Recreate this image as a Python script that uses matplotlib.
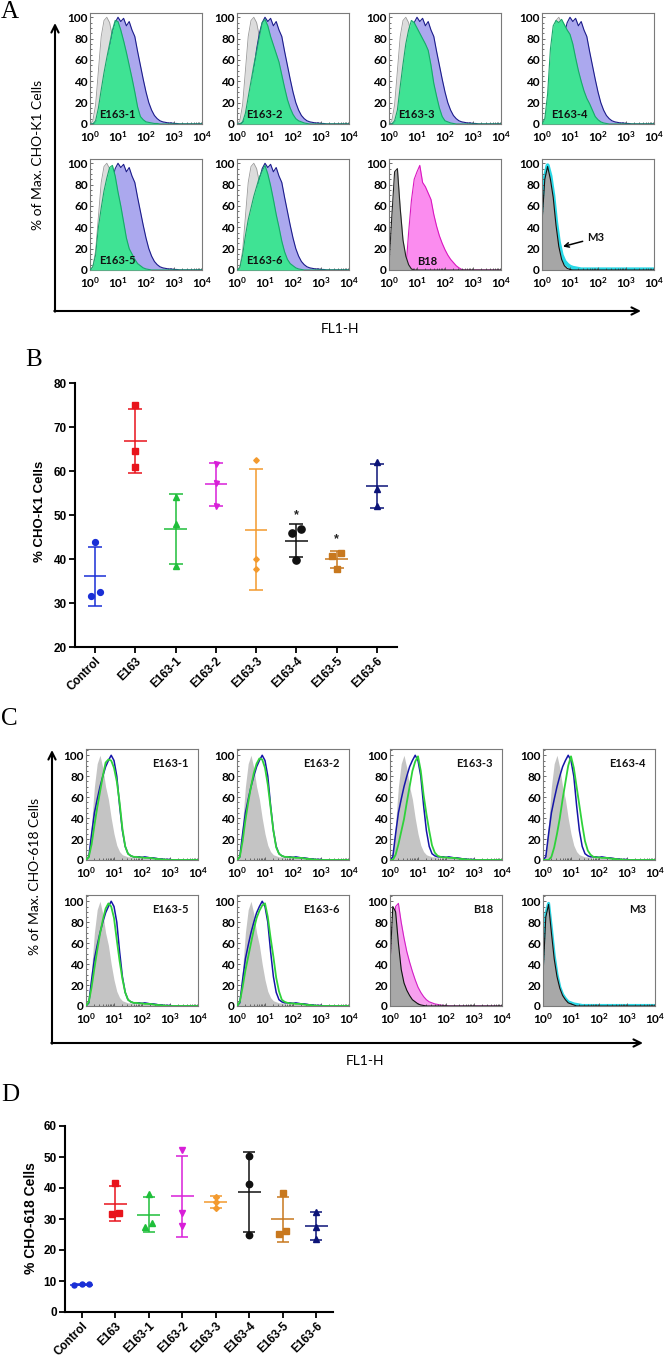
import numpy as np
import matplotlib
matplotlib.use('Agg')
import matplotlib.pyplot as plt
from matplotlib.ticker import MultipleLocator, LogLocator, NullFormatter

plt.rcParams['mathtext.fontset'] = 'custom'
plt.rcParams['mathtext.rm'] = 'Lato'
plt.rcParams['mathtext.bf'] = 'Lato:bold'

W, H = 667, 1363

# flow histograms: % of max, read every 0.1 decade of log10(FL1-H), 0..4
LOG_FL1 = np.round(np.arange(0, 4.01, 0.1), 1)

# panel A (CHO-K1)
A_CONTROL = [0, 3, 18, 50, 82, 97, 100, 95, 82, 62, 42, 26, 15, 8, 4, 2, 1, 0]
A_E163 = [0, 0, 1, 5, 15, 30, 50, 70, 85, 95, 100, 96, 99, 92, 96, 88, 82, 68, 55, 42,
          30, 20, 13, 8, 5, 3, 2, 1.5, 1, 1, 0.5, 0.5, 0]
A_E163_1 = [0, 0, 3, 15, 32, 48, 62, 75, 88, 97, 96, 88, 78, 67, 55, 43, 30, 16, 7, 4,
            2, 1.5, 1, 0.5, 0.5, 0]
A_E163_2 = [0, 0, 2, 10, 25, 40, 55, 68, 82, 95, 98, 92, 82, 74, 66, 58, 46, 34, 23, 15,
            9, 5, 3, 2, 1, 0.5, 0]
A_E163_3 = [0, 0, 3, 13, 35, 56, 75, 88, 97, 95, 90, 85, 80, 75, 69, 55, 38, 26, 15, 7,
            3, 2, 1, 0.5, 0]
A_E163_4 = [0, 5, 28, 70, 92, 97, 95, 98, 93, 88, 84, 75, 62, 50, 40, 31, 24, 19, 13, 7,
            4, 2, 1, 0.5, 0]
A_E163_5 = [0, 3, 14, 40, 58, 74, 86, 96, 98, 88, 73, 60, 45, 30, 20, 15, 10, 6, 4, 2,
            1, 0.5, 0]
A_E163_6 = [0, 2, 14, 32, 47, 58, 69, 78, 87, 93, 98, 90, 79, 66, 52, 40, 27, 17, 10, 6,
            4, 2, 1, 0.5, 0]
A_B18_CONTROL = [5, 50, 92, 95, 58, 28, 13, 5, 1, 0]
A_B18 = [0, 0, 0, 0, 0, 0, 0, 35, 65, 85, 92, 98, 82, 78, 72, 66, 52, 41, 32, 25,
         19, 14, 10, 7, 4, 2, 0.5, 0]
A_M3_CONTROL = [45, 85, 97, 85, 68, 42, 22, 10, 4, 1.5, 0.5, 0]
A_M3 = [45, 86, 98, 88, 70, 45, 26, 14, 8, 5, 3, 2, 1.5, 1, 0.5]

# panel C (CHO-618)
C_CONTROL = [0, 8, 35, 70, 92, 100, 88, 70, 58, 40, 25, 14, 8, 5, 4, 3, 3, 2, 2, 2,
             2, 2, 2, 3, 3, 3, 2, 1, 0.5, 0]
C_E163 = [0, 3, 25, 45, 58, 70, 80, 89, 95, 100, 95, 80, 52, 28, 13, 6, 4, 3, 3, 3,
          2.5, 3, 2.5, 2, 2, 1.5, 1, 1, 0.5, 0.5, 0.5, 0]
C_E163_1 = [0, 3, 15, 33, 50, 65, 80, 93, 96, 95, 88, 75, 55, 30, 13, 6, 4, 3, 3, 2.5,
            2.5, 2, 2, 2, 1.5, 1, 1, 0.5, 0.5, 0]
C_E163_2 = [0, 3, 18, 38, 55, 70, 83, 92, 97, 96, 88, 72, 50, 28, 12, 6, 4, 3, 3, 2.5,
            2.5, 2, 2, 2, 1.5, 1, 1, 0.5, 0.5, 0]
C_E163_3 = [0, 0, 5, 15, 27, 39, 55, 70, 85, 94, 99, 85, 62, 44, 28, 14, 7, 4, 3, 2.5,
            2.5, 2, 2, 2, 1.5, 1, 1, 0.5, 0.5, 0]
C_E163_4 = [0, 0, 0, 3, 12, 25, 40, 58, 74, 90, 99, 88, 70, 52, 34, 18, 9, 5, 3, 2.5,
            2.5, 2, 2, 2, 1.5, 1, 1, 0.5, 0.5, 0]
C_E163_5 = [0, 4, 18, 36, 53, 69, 82, 93, 98, 95, 84, 63, 43, 26, 13, 6, 4, 3, 3, 2.5,
            2.5, 2, 2, 2, 1.5, 1, 1, 0.5, 0.5, 0]
C_E163_6 = [0, 4, 18, 34, 47, 60, 73, 84, 91, 96, 98, 85, 65, 47, 27, 14, 6, 4, 3, 2.5,
            2.5, 2, 2, 2, 1.5, 1, 1, 0.5, 0.5, 0]
C_B18_CONTROL = [40, 95, 90, 60, 35, 22, 15, 10, 6, 4, 2, 1, 0.5, 0]
C_B18 = [20, 70, 95, 98, 80, 65, 52, 42, 33, 25, 18, 13, 9, 6, 4, 3, 2, 1.5, 1, 0.5,
         0.5, 0]
C_M3_CONTROL = [30, 85, 97, 70, 45, 28, 17, 10, 6, 3, 2, 1, 0]
C_M3 = [30, 88, 98, 74, 48, 30, 18, 11, 7, 4, 3, 2, 1.5, 1, 0.5]

HIST_NAMES = ['E163-1', 'E163-2', 'E163-3', 'E163-4', 'E163-5', 'E163-6']
A_GREENS = [A_E163_1, A_E163_2, A_E163_3, A_E163_4, A_E163_5, A_E163_6]
C_GREENS = [C_E163_1, C_E163_2, C_E163_3, C_E163_4, C_E163_5, C_E163_6]

# scatter panels: % positive cells, three replicates per group
GROUPS = ['Control', 'E163', 'E163-1', 'E163-2', 'E163-3', 'E163-4', 'E163-5', 'E163-6']
B_VALUES = [[43.8, 31.7, 32.6], [74.9, 64.6, 60.8], [54.2, 48.0, 38.3], [61.7, 57.3, 52.0],
            [62.4, 40.0, 37.7], [46.8, 45.8, 39.8], [41.4, 40.6, 37.7], [62.0, 56.0, 52.0]]
B_STARS = ['', '', '', '', '', '*', '*', '']
D_VALUES = [[9.0, 8.6, 8.9], [41.5, 31.8, 31.6], [38.0, 27.5, 28.8], [52.2, 32.0, 27.8],
            [37.2, 35.6, 33.6], [50.3, 41.2, 24.8], [38.3, 25.3, 26.2], [32.3, 27.5, 23.4]]

COLORS = ['#1a2fd6', '#e8141c', '#1fbf3a', '#d81fd8', '#f39a2e', '#111111', '#c8781e', '#0c1478']
MARKERS = ['o', 's', '^', 'v', 'D', 'o', 's', '^']
B_SIZES = [4.2, 3.8, 4.0, 3.6, 2.8, 5.2, 5.0, 4.6]
D_SIZES = [3.6, 3.8, 3.8, 4.0, 3.0, 4.6, 4.6, 4.4]

fig = plt.figure(figsize=(W / 100, H / 100), dpi=100)


def px_axes(left, top, right, bottom, **kw):
    return fig.add_axes([left / W, 1 - bottom / H, (right - left) / W, (bottom - top) / H], **kw)


def curve(vals):
    v = list(vals) + [vals[-1]] * (len(LOG_FL1) - len(vals))
    return np.array(v, dtype=float)


def hist_axes(left, top, ytop):
    ax = px_axes(left, top, left + 112, top + 111)
    ax.set_xscale('log')
    ax.set_xlim(1, 1e4)
    ax.set_ylim(0, ytop)
    ax.set_xticks([1, 10, 100, 1000, 10000])
    ax.set_xticklabels([r'$\mathbf{10^{%d}}$' % k for k in range(5)])
    ax.xaxis.set_minor_locator(LogLocator(base=10, subs=np.arange(2, 10), numticks=20))
    ax.xaxis.set_minor_formatter(NullFormatter())
    ax.set_yticks(range(0, 101, 20))
    ax.yaxis.set_minor_locator(MultipleLocator(5))
    ax.tick_params(which='both', direction='in', length=2.2, width=0.6, color='#555',
                   labelsize=8.5)
    ax.tick_params(axis='x', pad=4.5)
    ax.tick_params(axis='y', pad=1.5)
    ax.tick_params(which='minor', length=1.2)
    for lab in ax.get_yticklabels():
        lab.set_fontweight('bold')
        lab.set_fontfamily('Lato')
    for s in ax.spines.values():
        s.set_color('#7a7a7a')
        s.set_linewidth(0.8)
    return ax


def filled(ax, vals, face, edge=None, lw=0.7, z=1):
    # each histogram fill sits above the previous one, outline just above its own fill
    x = 10 ** LOG_FL1
    y = curve(vals)
    ax.fill_between(x, 0, y, color=face, lw=0, zorder=z)
    if edge:
        ax.plot(x, y, color=edge, lw=lw, zorder=z + 0.1)


def line(ax, vals, color, lw, z=2):
    ax.plot(10 ** LOG_FL1, curve(vals), color=color, lw=lw, solid_joinstyle='round', zorder=z)


LBL = dict(fontsize=8, fontweight='bold', family='Lato', color='#111')

# ---- panel A
A_COLS = [90, 237, 389, 542]
A_ROWS = [13, 159]
for k in range(8):
    ax = hist_axes(A_COLS[k % 4], A_ROWS[k // 4], 104)
    if k < 6:
        filled(ax, A_CONTROL, '#dcdcdc', '#9a9a9a', 0.6, z=1)
        filled(ax, A_E163, '#aba8ee', '#1c1c8a', 0.8, z=2)
        filled(ax, A_GREENS[k], '#3fe394', '#17a86a', 0.8, z=3)
        ax.text(0.08, 0.04, HIST_NAMES[k], transform=ax.transAxes, va='bottom', zorder=5, **LBL)
    elif k == 6:
        filled(ax, A_B18, '#fb8cef', '#d917c0', 0.8, z=1)
        filled(ax, A_B18_CONTROL, '#a6a6a6', '#222222', 0.8, z=2)
        ax.text(0.25, 0.03, 'B18', transform=ax.transAxes, va='bottom', zorder=5, **LBL)
    else:
        line(ax, A_M3, '#27d8e6', 3.0, z=1)
        filled(ax, A_M3_CONTROL, '#a6a6a6', '#111111', 0.8, z=2)
        ax.annotate('M3', xy=(10 ** 0.75, 22), xytext=(10 ** 1.6, 30), va='center',
                    arrowprops=dict(arrowstyle='->', lw=1.1, color='black',
                                    shrinkA=1, shrinkB=0), zorder=5, **LBL)

# ---- panel C
C_COLS = [86, 237, 390, 543]
C_ROWS = [749, 895]
for k in range(8):
    ax = hist_axes(C_COLS[k % 4], C_ROWS[k // 4], 106)
    if k < 6:
        filled(ax, C_CONTROL, '#c4c4c4', z=1)
        line(ax, C_E163, '#1515a8', 1.1, z=2)
        line(ax, C_GREENS[k], '#2fd23a', 1.3, z=3)
        name = HIST_NAMES[k]
    elif k == 6:
        filled(ax, C_B18, '#f7a0ef', '#d21fc5', 0.8, z=1)
        filled(ax, C_B18_CONTROL, '#a8a8a8', '#111111', 0.8, z=2)
        name = 'B18'
    else:
        line(ax, C_M3, '#2ad4e2', 2.2, z=1)
        filled(ax, C_M3_CONTROL, '#a8a8a8', '#111111', 0.8, z=2)
        name = 'M3'
    ax.text(0.92, 0.87, name, transform=ax.transAxes, ha='right', va='center', zorder=5, **LBL)


# ---- scatter panels B and D
def spread(vals, tol=1.5, step=0.22):
    order = np.argsort(vals)
    offs = np.zeros(len(vals))
    clusters = [[order[0]]]
    for a, b in zip(order[:-1], order[1:]):
        if vals[b] - vals[a] < tol:
            clusters[-1].append(b)
        else:
            clusters.append([b])
    for c in clusters:
        for j, idx in enumerate(c):
            offs[idx] = (j - (len(c) - 1) / 2) * step
    return offs


def scatter_panel(ax, values, sizes, cap, halfw, stars=None):
    for i, vals in enumerate(values):
        vals = np.array(vals)
        m, sd = vals.mean(), vals.std(ddof=1)
        col = COLORS[i]
        ax.errorbar(i, m, yerr=sd, fmt='none', ecolor=col, elinewidth=1.1,
                    capsize=cap, capthick=1.1)
        ax.hlines(m, i - halfw, i + halfw, color=col, lw=1.1)
        ax.plot(i + spread(vals), vals, ls='none', marker=MARKERS[i], ms=sizes[i],
                color=col, mec=col)
        if stars and stars[i]:
            ax.text(i, vals.max() + 3.2, stars[i], ha='center', va='center',
                    fontsize=9, fontweight='bold', family='Liberation Sans', color='#222')
    ax.set_xlim(-0.5, 7.5)
    ax.set_xticks(range(len(GROUPS)))
    ax.set_xticklabels(GROUPS, rotation=45, ha='right', rotation_mode='anchor')
    for s in ['top', 'right']:
        ax.spines[s].set_visible(False)
    for s in ['left', 'bottom']:
        ax.spines[s].set_linewidth(1.5)
    ax.tick_params(length=4, width=1.3, labelsize=8.5, pad=2)
    for lab in ax.get_xticklabels() + ax.get_yticklabels():
        lab.set_fontweight('bold')
        lab.set_fontfamily('Liberation Sans')


axB = px_axes(75, 383, 397, 647)
axB.set_ylim(20, 80)
axB.set_yticks(range(20, 81, 10))
scatter_panel(axB, B_VALUES, B_SIZES, 4.7, 0.28, B_STARS)

axD = px_axes(65, 1126, 333, 1312)
axD.set_ylim(0, 60)
axD.set_yticks(range(0, 61, 10))
scatter_panel(axD, D_VALUES, D_SIZES, 4.3, 0.34)

# ---- overlay: panel letters, axis arrows, shared labels (pixel coordinates)
ov = fig.add_axes([0, 0, 1, 1], zorder=-5)
ov.set_xlim(0, W)
ov.set_ylim(H, 0)
ov.axis('off')

ARROW = dict(arrowstyle='->', lw=1.5, color='black', shrinkA=0, shrinkB=0, mutation_scale=13)
for x0, y0, ytip, xtip in [(55, 311, 23, 641), (52, 1043, 750, 643)]:
    ov.annotate('', xy=(x0, ytip), xytext=(x0, y0 + 0.7), arrowprops=ARROW)
    ov.annotate('', xy=(xtip, y0), xytext=(x0 - 0.7, y0), arrowprops=ARROW)

ov.text(38, 155, '% of Max. CHO-K1 Cells', rotation=90, ha='center', va='center',
        fontsize=10, family='Lato')
ov.text(35, 876, '% of Max. CHO-618 Cells', rotation=90, ha='center', va='center',
        fontsize=10, family='Lato')
ov.text(340, 329, 'FL1-H', ha='center', va='center', fontsize=10, family='Lato')
ov.text(365, 1061, 'FL1-H', ha='center', va='center', fontsize=10, family='Lato')

ov.text(40, 511, '% CHO-K1 Cells', rotation=90, ha='center', va='center',
        fontsize=9.5, fontweight='bold', family='Liberation Sans')
ov.text(31, 1218, '% CHO-618 Cells', rotation=90, ha='center', va='center',
        fontsize=10, fontweight='bold', family='Liberation Sans')

for lx, ly, letter in [(10, 12, 'A'), (34, 360, 'B'), (9, 719, 'C'), (10, 1095, 'D')]:
    ov.text(lx, ly, letter, ha='center', va='center', fontsize=18, family='Liberation Serif')

fig.savefig('out.png', dpi=100)
